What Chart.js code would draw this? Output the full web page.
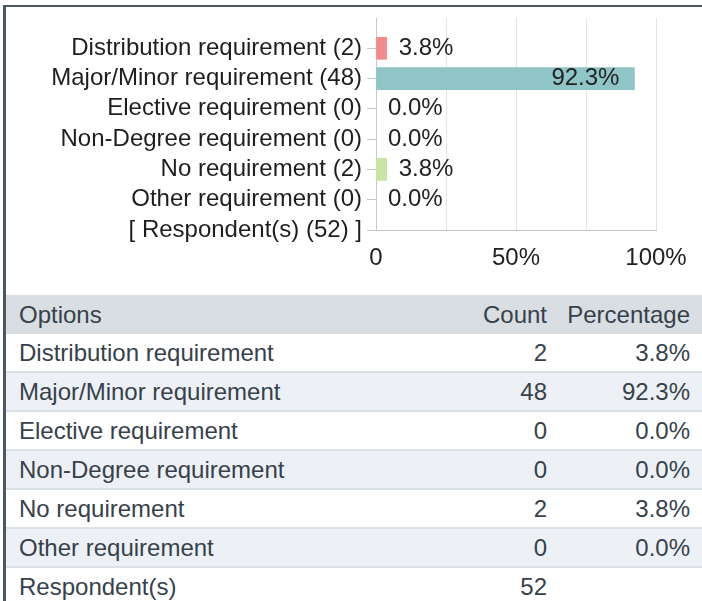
<!DOCTYPE html>
<html>
<head>
<meta charset="utf-8">
<script src="https://cdn.jsdelivr.net/npm/chart.js"></script>
<style>
  html,body{margin:0;padding:0;background:#fff;}
  body{width:702px;height:601px;overflow:hidden;position:relative;font-family:"Liberation Sans",Arial,sans-serif;}
  .box{position:absolute;left:3px;top:5px;width:699px;height:620px;border-top:2px solid #4b5667;border-left:3px solid #4b5667;box-sizing:border-box;}
  .chartWrap{position:relative;width:696px;height:278px;}
  table{position:absolute;left:0;top:288px;width:696px;border-collapse:collapse;table-layout:fixed;font-size:24px;color:#37414b;}
  th{font-weight:normal;background:#d8dee2;height:39px;padding:0;}
  td{height:37px;padding:0;border-bottom:2px solid #dbe2e7;}
  tr.alt td{background:#edf1f5;}
  .c1{text-align:left;padding-left:13px;}
  .c2{text-align:right;padding-right:12px;}
  .c3{text-align:right;padding-right:12px;}
</style>
</head>
<body>
<div class="box">
  <div class="chartWrap"><canvas id="chart"></canvas></div>
  <table id="tbl">
    <colgroup><col style="width:444px"><col style="width:109px"><col style="width:143px"></colgroup>
    <thead><tr><th class="c1">Options</th><th class="c2">Count</th><th class="c3">Percentage</th></tr></thead>
    <tbody></tbody>
  </table>
</div>
<script>
// data
const categories = ['Distribution requirement','Major/Minor requirement','Elective requirement','Non-Degree requirement','No requirement','Other requirement'];
const counts = [2, 48, 0, 0, 2, 0];
const percents = [3.8, 92.3, 0.0, 0.0, 3.8, 0.0];
const respondents = 52;
const barColors = ['#f48b8b','#8fc5c6','#f5c97a','#a9b7e0','#c7e59f','#d7a6d9'];
const xTicks = [0, 25, 50, 75, 100];

const FONT = '"Liberation Sans", Arial, sans-serif';
Chart.defaults.font.family = FONT;

// first blank row pushes the bars down one step, last row is the respondents line
const labels = [''].concat(categories.map((c,i)=>c+' ('+counts[i]+')'), ['[ Respondent(s) ('+respondents+') ]']);
const values = [null].concat(percents, [null]);
const colors = ['#fff'].concat(barColors, ['#fff']);

const barLabels = {
  id:'barLabels',
  afterDatasetsDraw(chart){
    const ctx = chart.ctx, meta = chart.getDatasetMeta(0);
    ctx.save();
    ctx.font = '24px ' + FONT; ctx.fillStyle = '#222'; ctx.textBaseline = 'middle';
    meta.data.forEach((bar,i)=>{
      const v = values[i];
      if (v===null) return;
      const txt = v.toFixed(1) + '%';
      if (v > 50){ ctx.textAlign='right'; ctx.fillText(txt, bar.x-15, bar.y); }
      else { ctx.textAlign='left'; ctx.fillText(txt, bar.x+12, bar.y); }
    });
    ctx.restore();
  }
};

new Chart(document.getElementById('chart'), {
  type:'bar',
  data:{labels, datasets:[{
    data:values,
    backgroundColor:c=> values[c.dataIndex] ? colors[c.dataIndex] : 'rgba(0,0,0,0)',
    barThickness:22, borderWidth:0
  }]},
  options:{
    indexAxis:'y', animation:false, responsive:true, maintainAspectRatio:false,
    layout:{padding:{top:11, right:46, bottom:0, left:0}},
    plugins:{legend:{display:false}, tooltip:{enabled:false}},
    scales:{
      x:{
        min:0, max:100,
        afterBuildTicks:s=>{ s.ticks = xTicks.map(v=>({value:v})); },
        ticks:{callback:v=> v===0 ? '0' : (v%50===0 ? v+'%' : ''), font:{size:24}, color:'#222', padding:14, maxRotation:0, autoSkip:false},
        grid:{color:'#e3e3e3', drawTicks:false},
        border:{color:'#c8c8c8'},
        afterFit:s=>{ s.height=55; s.paddingLeft=0; s.paddingRight=0; }
      },
      y:{
        offset:false,
        grid:{offset:false, drawOnChartArea:false, tickLength:9, tickColor:c=> c.index===0 ? 'rgba(0,0,0,0)' : '#c8c8c8'},
        border:{color:'#c8c8c8'},
        ticks:{font:{size:24}, color:'#1e1e1e', padding:5, autoSkip:false},
        afterFit:s=>{ s.width=370; s.paddingTop=0; s.paddingBottom=0; }
      }
    }
  },
  plugins:[barLabels]
});

// table
const tbody = document.querySelector('#tbl tbody');
categories.forEach((c,i)=>{
  const tr = document.createElement('tr');
  if (i%2===1) tr.className='alt';
  tr.innerHTML = '<td class="c1">'+c+'</td><td class="c2">'+counts[i]+'</td><td class="c3">'+percents[i].toFixed(1)+'%</td>';
  tbody.appendChild(tr);
});
const last = document.createElement('tr');
last.innerHTML = '<td class="c1" style="border-bottom:none">Respondent(s)</td><td class="c2" style="border-bottom:none">'+respondents+'</td><td class="c3" style="border-bottom:none"></td>';
tbody.appendChild(last);
</script>
</body>
</html>
